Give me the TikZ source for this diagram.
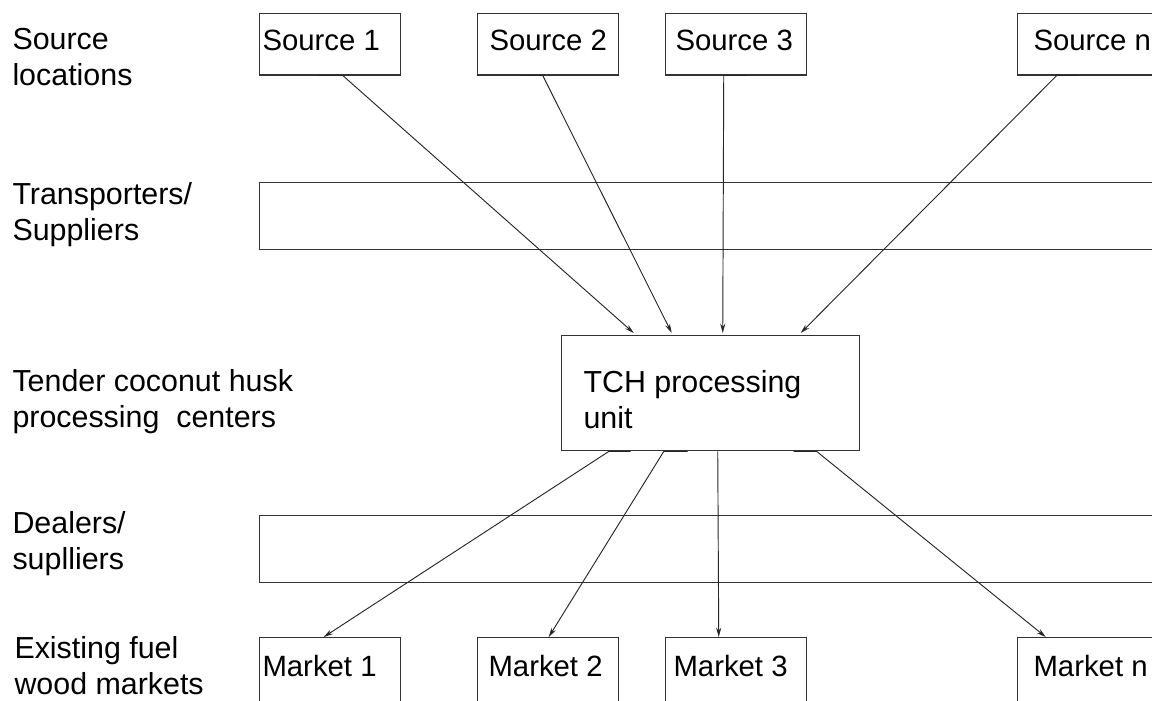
\documentclass[tikz,border=0pt]{standalone}
\usepackage{fontspec}
\setmainfont{Liberation Sans}
\usetikzlibrary{arrows.meta,calc}

\tikzset{every picture/.style={line width=0.75pt}}
\tikzset{
  box/.style={draw=black!80, line width=1.1pt, anchor=north west, inner sep=0pt, minimum width=105.75pt, minimum height=46pt},
  band/.style={draw=black!80, line width=1.1pt, anchor=north west, inner sep=0pt, minimum width=720pt, minimum height=50.25pt},
  flow/.style={draw=black!85, line width=0.7pt, -{Stealth[length=7pt,width=3.8pt]}},
  txt/.style={anchor=base west, inner sep=0pt, font=\fontsize{22}{27}\selectfont, align=left},
  bigtxt/.style={txt, font=\fontsize{22.8}{27}\selectfont},
}

\begin{document}
\begin{tikzpicture}[x=0.75pt,y=0.75pt,yscale=-1,xscale=1]
\useasboundingbox (0,0) rectangle (1152,700);
\clip (0,0) rectangle (1152,700);

%Source boxes
\node (src1) [box] at (259,12.7) {};
\node (src2) [box] at (477,12.7) {};
\node (src3) [box] at (665,12.7) {};
\node (srcn) [box] at (1017,12.7) {};
%Transporters and dealers bands
\node (transp) [band] at (259,182) {};
\node (deal) [band] at (259,515) {};
%Processing unit
\node (tch) [box, minimum width=223.5pt, minimum height=86.25pt] at (561,335) {};
%Market boxes
\node (mkt1) [box, minimum height=56pt] at (259,637) {};
\node (mkt2) [box, minimum height=56pt] at (477,637) {};
\node (mkt3) [box, minimum height=56pt] at (665,637) {};
\node (mktn) [box, minimum height=56pt] at (1017,637) {};

% Text Node (base is the last line)
\node (lblsrc) [bigtxt] at (12,85) {Source\\locations};
\node (lbltr) [bigtxt] at (12,240) {Transporters/\\Suppliers};
\node (lblpc) [bigtxt] at (12,427) {Tender coconut husk\\processing\ \ centers};
\node (lbldl) [bigtxt] at (12,569) {Dealers/\\suplliers};
\node (lblmk) [bigtxt] at (14,694) {Existing fuel\\wood markets};
% Text Node
\node (ts1) [txt] at (262,50) {Source 1};
\node (ts2) [txt] at (489,50) {Source 2};
\node (ts3) [txt] at (675,50) {Source 3};
\node (tsn) [txt] at (1033,50) {Source n};
\node (ttch) [bigtxt] at (583,428) {TCH processing\\unit};
\node (tm1) [txt] at (262,676) {Market 1};
\node (tm2) [txt] at (488,676) {Market 2};
\node (tm3) [txt] at (673,676) {Market 3};
\node (tmn) [txt] at (1033,676) {Market n};

%Sources into the processing unit
\draw [flow] ($(src1.south)+(-11.5,0)$) -- ($(src1.south)+(12.5,0)$) -- ($(tch.north)+(-77,-2)$);
\draw [flow] ($(src2.south)+(-27.5,0)$) -- ($(src2.south)+(-5.5,0)$) -- ($(tch.north)+(-39,-2)$);
\draw [flow] ($(src3.south)+(10.5,0)$) -- ($(src3.south)+(-12.5,0)$) -- ($(tch.north)+(12,-2)$);
\draw [flow] ($(srcn.south)+(-9.5,0)$) -- ($(srcn.south)+(-31.5,0)$) -- ($(tch.north)+(90,-2)$);
%Processing unit out to the markets
\draw [flow] ($(tch.south)+(-80,0)$) -- ($(tch.south)+(-102,0)$) -- ($(mkt1.north)+(-6.5,0)$);
\draw [flow] ($(tch.south)+(-23,0)$) -- ($(tch.south)+(-47,0)$) -- ($(mkt2.north)+(0.5,0)$);
\draw [flow] ($(tch.south)+(7,0)$) -- ($(mkt3.north)+(-17.5,0)$);
\draw [flow] ($(tch.south)+(83,0)$) -- ($(tch.south)+(106,0)$) -- ($(mktn.north)+(-42.5,0)$);

\end{tikzpicture}
\end{document}
